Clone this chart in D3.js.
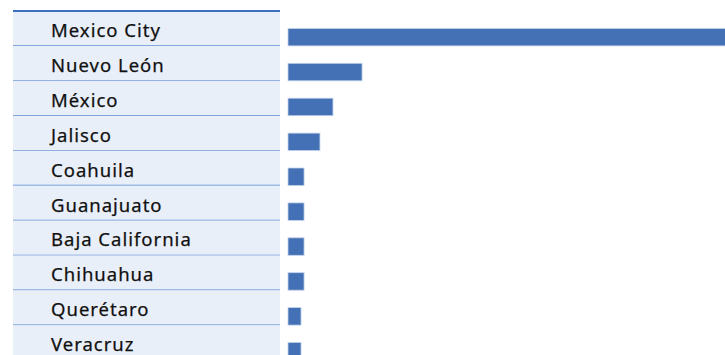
<!DOCTYPE html>
<html>
<head>
<meta charset="utf-8">
<script src="https://cdn.jsdelivr.net/npm/d3@7"></script>
<style>
  html, body { margin: 0; padding: 0; background: #fff; }
  svg { display: block; }
</style>
</head>
<body>
<div id="chart"></div>
<script>
const width = 725;
const height = 355;

// states, ordered as in the table
const states = ["Mexico City", "Nuevo León", "México", "Jalisco", "Coahuila",
  "Guanajuato", "Baja California", "Chihuahua", "Querétaro", "Veracruz"];
// relative values
const values = [33, 5.4, 3.28, 2.33, 1.17, 1.17, 1.17, 1.17, 0.95, 0.95];

const tableLeft = 13, tableRight = 280;

const y = d3.scaleBand()
    .domain(states)
    .range([11, 11 + states.length * 34.9]);

const x = d3.scaleLinear()
    .domain([0, 35])
    .range([288, 288 + 480]);

const svg = d3.create("svg")
    .attr("width", width)
    .attr("height", height)
    .attr("viewBox", [0, 0, width, height])
    .attr("style", "font-family: 'Noto Sans', sans-serif;");

// table rows
const row = svg.append("g")
    .selectAll()
    .data(states)
    .join("g")
    .attr("transform", d => `translate(0,${y(d)})`);

row.append("rect")
    .attr("x", tableLeft)
    .attr("width", tableRight - tableLeft)
    .attr("height", y.bandwidth())
    .attr("fill", "#e9eff8");

row.append("line")
    .attr("x1", tableLeft)
    .attr("x2", tableRight)
    .attr("y1", y.bandwidth())
    .attr("y2", y.bandwidth())
    .attr("stroke", "#5587cf")
    .attr("stroke-width", 1.3);

row.append("text")
    .attr("x", 51)
    .attr("y", 26)
    .attr("font-size", 18.5)
    .attr("letter-spacing", 1)
    .attr("fill", "#111")
    .attr("stroke", "#111")
    .attr("stroke-width", 0.25)
    .text(d => d);

// top rule
svg.append("line")
    .attr("x1", tableLeft)
    .attr("x2", tableRight)
    .attr("y1", 11)
    .attr("y2", 11)
    .attr("stroke", "#3f6fbd")
    .attr("stroke-width", 2);

// bars
const barH = 17.5;
svg.append("g")
    .selectAll()
    .data(states)
    .join("rect")
    .attr("x", x(0))
    .attr("y", d => y(d) + y.bandwidth() - barH)
    .attr("width", (d, i) => x(values[i]) - x(0))
    .attr("height", barH)
    .attr("fill", "#4471b5")
    .attr("stroke", "#c3d3eb")
    .attr("stroke-width", 0.8);

d3.select("#chart").append(() => svg.node());
</script>
</body>
</html>
